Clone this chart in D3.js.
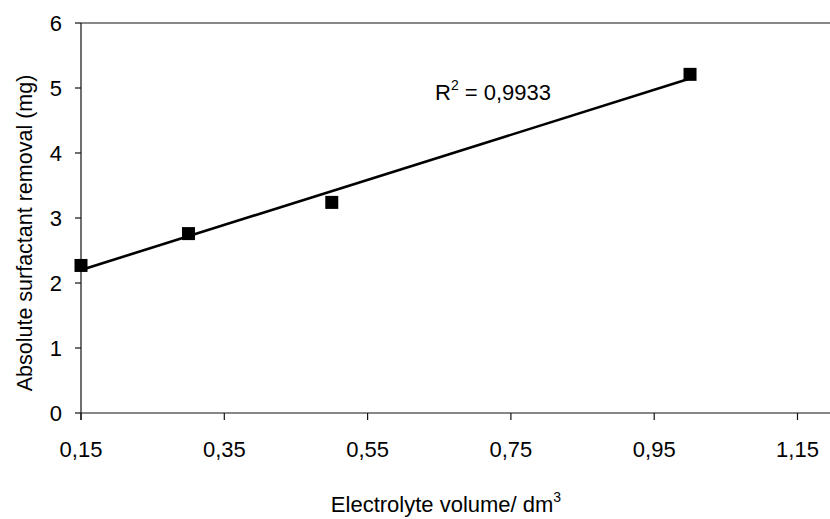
<!DOCTYPE html>
<html>
<head>
<meta charset="utf-8">
<script src="https://cdn.jsdelivr.net/npm/d3@7"></script>
<style>
  html, body { margin: 0; padding: 0; background: #fff; }
  svg { display: block; font-family: "Liberation Sans", Arial, sans-serif; }
</style>
</head>
<body>
<svg id="chart" width="830" height="519"></svg>
<script>
// Electrolyte volume (dm3) vs. absolute surfactant removal (mg)
const volumes = [0.15, 0.30, 0.50, 1.00];
const removal = [2.27, 2.76, 3.24, 5.21];
const xTicks = [0.15, 0.35, 0.55, 0.75, 0.95, 1.15];
const yTicks = [0, 1, 2, 3, 4, 5, 6];
const r2Label = "0,9933";

const svg = d3.select("#chart");
const plotLeft = 81, plotRight = 830, plotTop = 23, plotBottom = 413;
const fs = 22;

const x = d3.scaleLinear().domain([0.15, 1.15]).range([plotLeft, 797.5]);
const y = d3.scaleLinear().domain([0, 6]).range([plotBottom, plotTop]);
const fmt = d => d3.format(".2f")(d).replace(".", ",");

// axes
const gx = svg.append("g").attr("transform", `translate(0,${plotBottom})`);
gx.append("line").attr("x1", plotLeft).attr("x2", plotRight).attr("stroke", "#111").attr("stroke-width", 1.2);
gx.selectAll("g.t").data(xTicks).join("g").attr("class", "t")
  .attr("transform", d => `translate(${x(d)},0)`)
  .call(g => g.append("line").attr("y1", 0).attr("y2", 7).attr("stroke", "#111").attr("stroke-width", 1.2))
  .call(g => g.append("text").attr("y", 44).attr("text-anchor", "middle")
    .attr("font-size", fs).attr("fill", "#000").text(fmt));

const gy = svg.append("g").attr("transform", `translate(${plotLeft},0)`);
gy.append("line").attr("y1", plotTop).attr("y2", plotBottom + 7).attr("stroke", "#111").attr("stroke-width", 1.2);
gy.selectAll("g.t").data(yTicks).join("g").attr("class", "t")
  .attr("transform", d => `translate(0,${y(d)})`)
  .call(g => g.append("line").attr("x1", -6).attr("x2", 0).attr("stroke", "#111").attr("stroke-width", 1.2))
  .call(g => g.append("text").attr("x", -19).attr("dy", "0.36em").attr("text-anchor", "end")
    .attr("font-size", fs).attr("fill", "#000").text(d => d));

// top frame line of the plot area
svg.append("line").attr("x1", plotLeft).attr("x2", plotRight).attr("y1", y(6)).attr("y2", y(6))
  .attr("stroke", "#111").attr("stroke-width", 1.2);

// least-squares trend line over the measured range
const mx = d3.mean(volumes), my = d3.mean(removal);
const sxy = d3.sum(volumes, (v, i) => (v - mx) * (removal[i] - my));
const sxx = d3.sum(volumes, v => (v - mx) ** 2);
const slope = sxy / sxx, icpt = my - slope * mx;
const ext = d3.extent(volumes);
svg.append("line")
  .attr("x1", x(ext[0])).attr("y1", y(icpt + slope * ext[0]))
  .attr("x2", x(ext[1])).attr("y2", y(icpt + slope * ext[1]))
  .attr("stroke", "#000").attr("stroke-width", 2.6);

// data markers
const s = 13;
svg.selectAll("rect.pt").data(volumes).join("rect").attr("class", "pt")
  .attr("x", d => x(d) - s / 2).attr("y", (d, i) => y(removal[i]) - s / 2)
  .attr("width", s).attr("height", s).attr("fill", "#000");

// R² annotation
const r2 = svg.append("text").attr("x", 435).attr("y", 100).attr("font-size", fs).attr("fill", "#000");
r2.append("tspan").text("R");
r2.append("tspan").attr("dy", -10).attr("font-size", 14).text("2");
r2.append("tspan").attr("dy", 10).text(" = " + r2Label);

// axis titles
const xt = svg.append("text").attr("x", 446).attr("y", 512).attr("text-anchor", "middle")
  .attr("font-size", fs).attr("fill", "#000");
xt.append("tspan").text("Electrolyte volume/ dm");
xt.append("tspan").attr("dy", -10).attr("font-size", 14).text("3");

svg.append("text").attr("transform", "translate(32,233) rotate(-90)")
  .attr("text-anchor", "middle").attr("font-size", 21.5).attr("fill", "#000")
  .text("Absolute surfactant removal (mg)");
</script>
</body>
</html>
